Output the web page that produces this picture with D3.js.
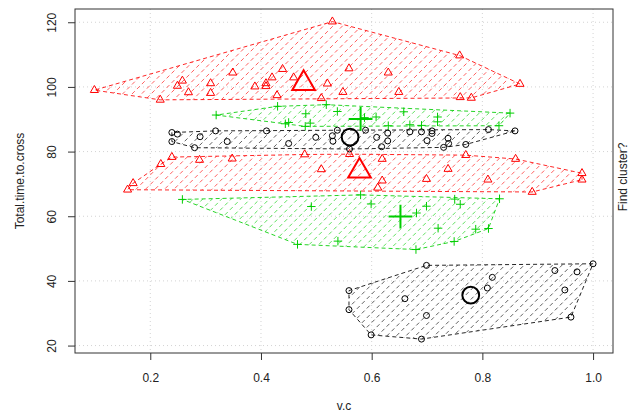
<!DOCTYPE html>
<html>
<head>
<meta charset="utf-8">
<script src="https://cdn.jsdelivr.net/npm/d3@7"></script>
<style>
  body { margin: 0; background: #fff; }
  text { font-family: "Liberation Sans", Arial, sans-serif; fill: #222; }
</style>
</head>
<body>
<svg id="chart" width="634" height="416"></svg>
<script>
// red triangles, upper group
var redTopVc = [0.099, 0.218, 0.249, 0.258, 0.269, 0.309, 0.309, 0.349, 0.389, 0.409, 0.409, 0.420, 0.429,
  0.439, 0.459, 0.509, 0.520, 0.529, 0.559, 0.548, 0.630, 0.649, 0.759, 0.868, 0.760, 0.780]
var redTopTime = [99.0, 96.0, 100.3, 101.9, 98.3, 101.1, 98.1, 104.4, 100.1, 101.1, 100.2, 102.9, 97.4,
  105.5, 102.9, 96.5, 101.0, 120.2, 105.7, 98.4, 104.4, 98.4, 109.7, 100.9, 96.8, 96.6]

// red triangles, middle group
var redMidVc = [0.159, 0.169, 0.219, 0.239, 0.289, 0.348, 0.479, 0.509, 0.560, 0.619, 0.619, 0.611,
  0.699, 0.738, 0.770, 0.810, 0.860, 0.890, 0.980, 0.980]
var redMidTime = [68.2, 70.2, 76.1, 78.3, 77.4, 77.8, 79.1, 74.5, 79.2, 77.7, 71.0, 68.8,
  71.5, 74.6, 78.9, 71.3, 77.7, 67.5, 73.3, 71.3]

// green crosses, upper group
var greenTopVc = [0.319, 0.430, 0.481, 0.444, 0.450, 0.480, 0.489, 0.518, 0.538, 0.587, 0.608, 0.630,
  0.658, 0.669, 0.690, 0.719, 0.719, 0.830, 0.850]
var greenTopTime = [91.3, 94.0, 91.7, 88.6, 89.0, 87.8, 88.8, 94.5, 92.4, 90.5, 90.7, 88.0,
  92.3, 88.3, 88.1, 90.7, 89.2, 88.0, 91.9]

// green crosses, lower group
var greenLowVc = [0.258, 0.491, 0.466, 0.539, 0.580, 0.599, 0.681, 0.699, 0.750, 0.760, 0.720, 0.788,
  0.811, 0.749, 0.680, 0.831]
var greenLowTime = [65.2, 63.0, 51.3, 52.3, 66.6, 63.8, 61.0, 63.1, 65.3, 63.7, 56.3, 56.0,
  56.2, 52.2, 49.7, 65.4]

// black circles, middle group
var blackMidVc = [0.239, 0.249, 0.239, 0.280, 0.290, 0.318, 0.339, 0.410, 0.450, 0.499, 0.529, 0.530,
  0.538, 0.560, 0.589, 0.609, 0.629, 0.629, 0.618, 0.669, 0.690, 0.709, 0.709, 0.700, 0.730, 0.738,
  0.739, 0.770, 0.811, 0.859]
var blackMidTime = [85.9, 85.4, 83.1, 81.2, 84.6, 86.4, 83.1, 86.4, 82.5, 84.4, 84.9, 83.2,
  86.6, 80.8, 86.6, 84.4, 85.7, 83.3, 81.5, 86.1, 86.1, 86.4, 85.6, 83.4, 81.3, 84.1,
  82.5, 82.2, 86.8, 86.4]

// black circles, lower group
var blackLowVc = [0.699, 0.559, 0.559, 0.599, 0.690, 0.660, 0.699, 0.818, 0.809, 0.931, 0.971, 1.000,
  0.949, 0.960]
var blackLowTime = [44.8, 37.0, 31.1, 23.3, 22.0, 34.5, 29.3, 41.1, 37.8, 43.2, 42.8, 45.3,
  37.2, 28.8]

// cluster centres (big symbols)
var centreVc = [0.477, 0.578, 0.580, 0.652, 0.561, 0.779]
var centreTime = [101.1, 74.0, 90.1, 59.9, 84.5, 35.6]

var xTicks = [0.2, 0.4, 0.6, 0.8, 1.0]
var yTicks = [20, 40, 60, 80, 100, 120]

var clusters = [
  { vc: redTopVc, time: redTopTime, color: '#ff0000', shape: 'tri' },
  { vc: redMidVc, time: redMidTime, color: '#ff0000', shape: 'tri' },
  { vc: greenTopVc, time: greenTopTime, color: '#00cd00', shape: 'plus' },
  { vc: greenLowVc, time: greenLowTime, color: '#00cd00', shape: 'plus' },
  { vc: blackMidVc, time: blackMidTime, color: '#000000', shape: 'circle' },
  { vc: blackLowVc, time: blackLowTime, color: '#000000', shape: 'circle' }
]
clusters.forEach(function (c, i) {
  c.points = c.vc.map(function (v, j) { return { vc: v, time: c.time[j] } })
  c.centre = { vc: centreVc[i], time: centreTime[i] }
})

var plotLeft = 75
var plotRight = 613
var plotTop = 9
var plotBottom = 353

var x = d3.scaleLinear().domain([0.064, 1.036]).range([plotLeft, plotRight])
var y = d3.scaleLinear().domain([17.7, 124.1]).range([plotBottom, plotTop])

var svg = d3.select('#chart')

// grid
var grid = svg.append('g').attr('stroke', '#d3d3d3').attr('stroke-dasharray', '1,3')
grid.selectAll('.gx').data(xTicks).enter().append('line')
  .attr('x1', function (d) { return x(d) }).attr('x2', function (d) { return x(d) })
  .attr('y1', plotTop).attr('y2', plotBottom)
grid.selectAll('.gy').data(yTicks).enter().append('line')
  .attr('y1', function (d) { return y(d) }).attr('y2', function (d) { return y(d) })
  .attr('x1', plotLeft).attr('x2', plotRight)

// symbol path for a point, r is the symbol size unit
function symbolPath (shape, r) {
  if (shape === 'tri') {
    var a = 1.555 * r
    var b = 1.347 * r
    return 'M0,' + (-a) + 'L' + b + ',' + (a / 2) + 'L' + (-b) + ',' + (a / 2) + 'Z'
  }
  if (shape === 'plus') {
    var p = 1.414 * r
    return 'M' + (-p) + ',0H' + p + 'M0,' + (-p) + 'V' + p
  }
  return 'M' + r + ',0A' + r + ',' + r + ' 0 1,1 ' + (-r) + ',0A' + r + ',' + r + ' 0 1,1 ' + r + ',0Z'
}

// hulls with dashed hatching
var defs = svg.append('defs')
clusters.forEach(function (c, i) {
  var pts = c.points.map(function (d) { return [x(d.vc), y(d.time)] })
  var hull = d3.polygonHull(pts)
  var hullPath = 'M' + hull.join('L') + 'Z'

  defs.append('clipPath').attr('id', 'hull' + i)
    .append('path').attr('d', hullPath)

  var x0 = d3.min(hull, function (p) { return p[0] }) - 2
  var x1 = d3.max(hull, function (p) { return p[0] }) + 2
  var y0 = d3.min(hull, function (p) { return p[1] }) - 2
  var y1 = d3.max(hull, function (p) { return p[1] }) + 2
  var offsets = d3.range(x0 + y0, x1 + y1 + 10, 9.5)

  svg.append('g').attr('clip-path', 'url(#hull' + i + ')')
    .selectAll('line').data(offsets).enter().append('line')
    .attr('x1', x0).attr('y1', function (k) { return k - x0 })
    .attr('x2', x1).attr('y2', function (k) { return k - x1 })
    .attr('stroke', c.color).attr('stroke-width', 0.9)
    .attr('stroke-opacity', 0.7)
    .attr('stroke-dasharray', '4,3')

  svg.append('path').attr('d', hullPath)
    .attr('fill', 'none').attr('stroke', c.color)
    .attr('stroke-opacity', 0.85)
    .attr('stroke-dasharray', '4,3')
})

// points and centres
clusters.forEach(function (c) {
  svg.append('g').selectAll('path').data(c.points).enter().append('path')
    .attr('transform', function (d) { return 'translate(' + x(d.vc) + ',' + y(d.time) + ')' })
    .attr('d', symbolPath(c.shape, 3))
    .attr('fill', 'none').attr('stroke', c.color).attr('stroke-width', 1)

  svg.append('path')
    .attr('transform', 'translate(' + x(c.centre.vc) + ',' + y(c.centre.time) + ')')
    .attr('d', symbolPath(c.shape, 8.4))
    .attr('fill', 'none').attr('stroke', c.color).attr('stroke-width', 2)
})

// box
svg.append('rect').attr('x', plotLeft).attr('y', plotTop)
  .attr('width', plotRight - plotLeft).attr('height', plotBottom - plotTop)
  .attr('fill', 'none').attr('stroke', '#333')

// axes
var xAxis = svg.append('g').attr('transform', 'translate(0,' + plotBottom + ')')
  .call(d3.axisBottom(x).tickValues(xTicks).tickSize(7).tickPadding(13).tickFormat(d3.format('.1f')))
xAxis.select('.domain').remove()
xAxis.selectAll('line').attr('stroke', '#333')
xAxis.selectAll('text').attr('font-size', 12).attr('fill', '#222')
  .attr('font-family', '"Liberation Sans", Arial, sans-serif')

var yAxis = svg.append('g').attr('transform', 'translate(' + plotLeft + ',0)')
  .call(d3.axisLeft(y).tickValues(yTicks).tickSize(7))
yAxis.select('.domain').remove()
yAxis.selectAll('line').attr('stroke', '#333')
yAxis.selectAll('text')
  .attr('transform', 'rotate(-90)')
  .attr('x', 0).attr('y', -23.3).attr('dy', '0.35em')
  .attr('text-anchor', 'middle')
  .attr('font-size', 12).attr('fill', '#222')
  .attr('font-family', '"Liberation Sans", Arial, sans-serif')

// labels
svg.append('text').attr('x', (plotLeft + plotRight) / 2).attr('y', 406).attr('dy', '0.35em')
  .attr('text-anchor', 'middle').attr('font-size', 12).text('v.c')
svg.append('text').attr('transform', 'translate(20,' + (plotTop + plotBottom) / 2 + ') rotate(-90)')
  .attr('dy', '0.35em').attr('text-anchor', 'middle').attr('font-size', 12)
  .text('Total.time.to.cross')
svg.append('text').attr('transform', 'translate(622.7,177) rotate(-90)')
  .attr('dy', '0.35em').attr('text-anchor', 'middle').attr('font-size', 12)
  .text('Find cluster?')
</script>
</body>
</html>
